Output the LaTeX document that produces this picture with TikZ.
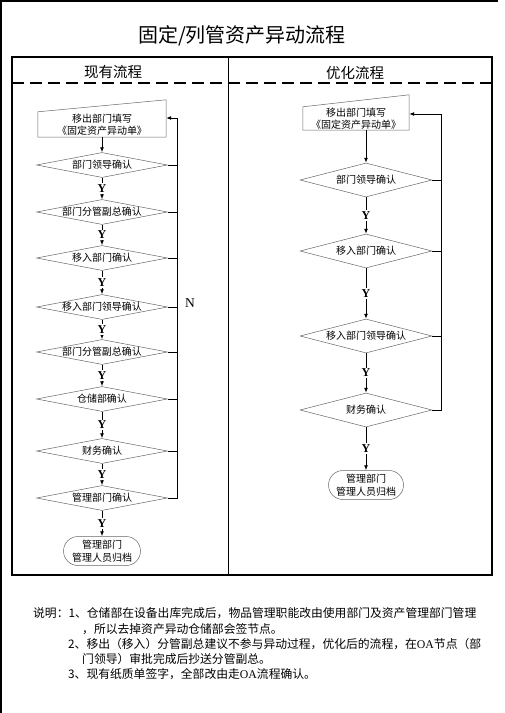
\documentclass[tikz,border=0pt]{standalone}
\usepackage{fontspec}
\setmainfont{Liberation Serif}
\newfontfamily\cjk{Noto Sans CJK SC}
\usetikzlibrary{shapes.geometric,shapes.misc,arrows.meta}
\tikzset{
  frameline/.style={line width=1.3pt},
  chk/.style={diamond,draw=black!60,line width=0.5pt,aspect=5.2,inner sep=0pt,
    minimum width=131pt,minimum height=25pt,font=\cjk\fontsize{10}{12}\selectfont},
  chkr/.style={chk,aspect=4,minimum width=132pt,minimum height=34pt},
  inbox/.style={rectangle,inner sep=0pt,align=center,font=\cjk\fontsize{10}{12.5}\selectfont},
  endbox/.style={rounded rectangle,draw=black!60,line width=0.5pt,inner sep=0pt,align=center,
    minimum height=29pt,font=\cjk\fontsize{10}{13}\selectfont},
  flow/.style={line width=0.9pt,-{Latex[length=5pt,width=4pt]}},
  back/.style={line width=0.9pt},
  yes/.style={fill=white,inner sep=1.5pt,font=\bfseries\fontsize{12}{12}\selectfont},
  note/.style={anchor=west,inner sep=0pt,font=\cjk\fontsize{11.8}{14}\selectfont},
}
\newcommand*\oa{{\rmfamily OA}}
\begin{document}
\begin{tikzpicture}[x=1pt,y=-1pt]
\useasboundingbox (0,0) rectangle (504,713);
% page edge
\draw[line width=1.2pt] (498,1) -- (1,1) -- (1,713);
% title
\node (title) at (242,36) {\cjk\fontsize{20}{20}\selectfont 固定/列管资产异动流程};
% frame
\draw[frameline] (12,57) rectangle (492,575);
\draw[line width=0.8pt] (228,57) -- (228,575);
\draw[line width=1.1pt,dash pattern=on 12pt off 6pt] (12,83) -- (492,83);
\node (hleft) at (113,72) {\cjk\fontsize{14.5}{15}\selectfont 现有流程};
\node (hright) at (355,73) {\cjk\fontsize{14.5}{15}\selectfont 优化流程};
%
% present flow
\node[inbox,minimum width=128pt,minimum height=25pt] (l0) at (102,124.5) {移出部门填写\\《固定资产异动单》};
\draw[black!60,line width=0.5pt] (l0.south west) -- (l0.north west) -- ([yshift=12pt]l0.north east) -- (l0.south east) -- cycle;
\node[chk] (l1) at (102,165) {部门领导确认};
\node[chk] (l2) at (102,212) {部门分管副总确认};
\node[chk] (l3) at (102,258) {移入部门确认};
\node[chk] (l4) at (102,307) {移入部门领导确认};
\node[chk] (l5) at (102,352) {部门分管副总确认};
\node[chk] (l6) at (102,399) {仓储部确认};
\node[chk] (l7) at (102,451) {财务确认};
\node[chk] (l8) at (102,498) {管理部门确认};
\node[endbox,minimum width=77pt] (l9) at (102,551) {管理部门\\管理人员归档};
%
\draw[flow] (l0) -- (l1);
\draw[flow] (l1) -- node[yes] {Y} (l2);
\draw[flow] (l2) -- node[yes] {Y} (l3);
\draw[flow] (l3) -- node[yes] {Y} (l4);
\draw[flow] (l4) -- node[yes] {Y} (l5);
\draw[flow] (l5) -- node[yes] {Y} (l6);
\draw[flow] (l6) -- node[yes] {Y} (l7);
\draw[flow] (l7) -- node[yes] {Y} (l8);
\draw[flow] (l8) -- node[yes] {Y} (l9);
% back to start
\coordinate (lret) at (177,0);
\coordinate (lin) at ([yshift=6.5pt]l0.east);
\draw[back] (l1.east) -- (l1.east -| lret);
\draw[back] (l2.east) -- (l2.east -| lret);
\draw[back] (l3.east) -- (l3.east -| lret);
\draw[back] (l4.east) -- (l4.east -| lret);
\draw[back] (l5.east) -- (l5.east -| lret);
\draw[back] (l6.east) -- (l6.east -| lret);
\draw[back] (l7.east) -- (l7.east -| lret);
\draw[flow] (l8.east) -| (lret |- lin) -- (lin);
\node[font=\fontsize{13.5}{13.5}\selectfont] (no) at (190,303) {N};
%
% optimised flow
\node[inbox,minimum width=106pt,minimum height=23pt] (r0) at (356,118.5) {移出部门填写\\《固定资产异动单》};
\draw[black!60,line width=0.5pt] (r0.south west) -- (r0.north west) -- ([yshift=12pt]r0.north east) -- (r0.south east) -- cycle;
\node[chkr] (r1) at (366,180) {部门领导确认};
\node[chkr] (r2) at (366,251) {移入部门确认};
\node[chkr] (r3) at (366,336) {移入部门领导确认};
\node[chkr] (r4) at (366,410) {财务确认};
\node[endbox,minimum width=75pt] (r5) at (366,485) {管理部门\\管理人员归档};
%
\draw[flow] (r0.south -| r1.north) -- (r1);
\draw[flow] (r1) -- node[yes] {Y} (r2);
\draw[flow] (r2) -- node[yes] {Y} (r3);
\draw[flow] (r3) -- node[yes] {Y} (r4);
\draw[flow] (r4) -- node[yes] {Y} (r5);
% back to start
\coordinate (rret) at (441,0);
\coordinate (rin) at ([yshift=4.5pt]r0.east);
\draw[back] (r1.east) -- (r1.east -| rret);
\draw[back] (r2.east) -- (r2.east -| rret);
\draw[back] (r3.east) -- (r3.east -| rret);
\draw[flow] (r4.east) -| (rret |- rin) -- (rin);
%
% notes
\node[note] (n1) at (33,613) {说明：1、仓储部在设备出库完成后，物品管理职能改由使用部门及资产管理部门管理};
\node[note] (n2) at (82,629) {，所以去掉资产异动仓储部会签节点。};
\node[note] (n3) at (68,644) {2、移出（移入）分管副总建议不参与异动过程，优化后的流程，在\oa 节点（部};
\node[note] (n4) at (82,659) {门领导）审批完成后抄送分管副总。};
\node[note] (n5) at (68,674) {3、现有纸质单签字，全部改由走\oa 流程确认。};
\end{tikzpicture}
\end{document}
